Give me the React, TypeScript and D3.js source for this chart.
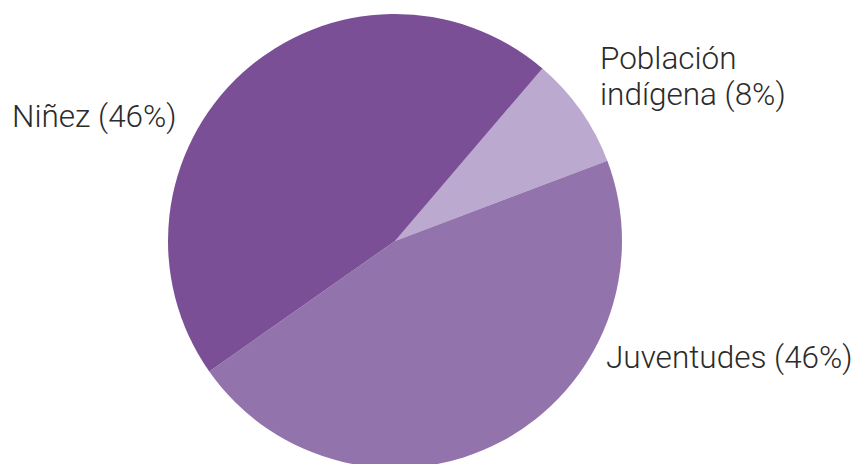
import React from "react";
import * as d3 from "d3";

const categories = ["Población indígena", "Juventudes", "Niñez"];
const values = [8, 46, 46];
const colors = ["#bba9cf", "#9373ab", "#7b4f96"];
const labelLines = [["Población", "indígena (8%)"], ["Juventudes (46%)"], ["Niñez (46%)"]];
const labelPos = [[600, 69], [606, 368], [12, 127]];

export default function App() {
  const width = 859, height = 464;
  const cx = 395, cy = 241, r = 227;
  const startAngle = (40.5 * Math.PI) / 180;
  const pie = d3.pie<number>().sort(null).startAngle(startAngle).endAngle(startAngle + 2 * Math.PI);
  const arcs = pie(values);
  const arc = d3.arc<d3.PieArcDatum<number>>().innerRadius(0).outerRadius(r);
  return (
    <svg width={width} height={height} style={{ position: "absolute", left: 0, top: 0 }}>
      <g transform={`translate(${cx},${cy})`}>
        {arcs.map((a, i) => (
          <path key={categories[i]} d={arc(a) || ""} fill={colors[i]} />
        ))}
      </g>
      {labelLines.map((lines, i) => (
        <text key={i} x={labelPos[i][0]} y={labelPos[i][1]} fontFamily="Roboto" fontWeight={300} fontSize={31.5} fill="#2b2b2b">
          {lines.map((l, j) => (
            <tspan key={j} x={labelPos[i][0]} dy={j === 0 ? 0 : 36}>{l}</tspan>
          ))}
        </text>
      ))}
    </svg>
  );
}
